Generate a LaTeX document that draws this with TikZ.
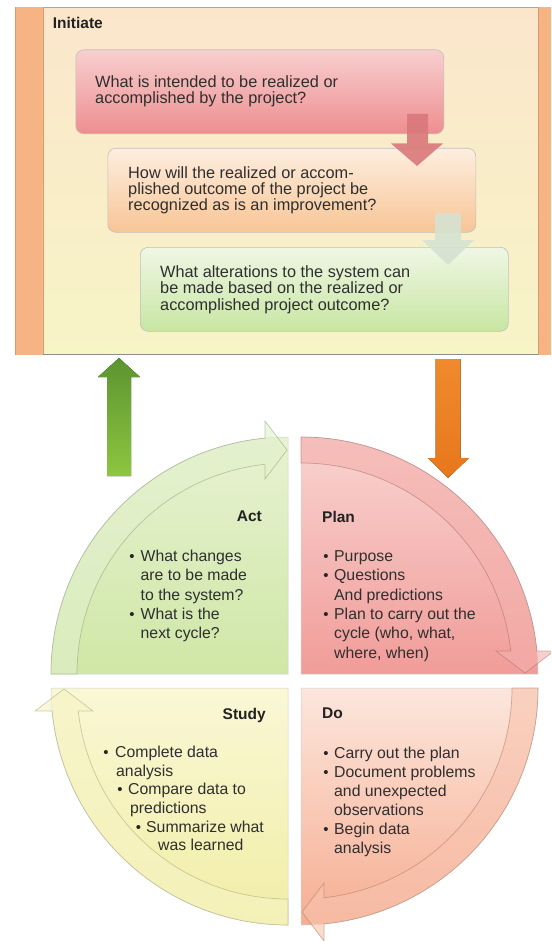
\documentclass[tikz,border=0pt]{standalone}
\usepackage{fontspec}
\setmainfont{Liberation Sans}
\usetikzlibrary{shadings}
\definecolor{txtc}{HTML}{2F2F2F}
\definecolor{ttlc}{HTML}{222222}
\definecolor{orStrip}{HTML}{F6B383}
\definecolor{orLine}{HTML}{D99B6C}
\definecolor{panelTop}{HTML}{FBE6CB}
\definecolor{panelBot}{HTML}{F7F4C6}
\definecolor{boxaTop}{HTML}{F8CFCF}
\definecolor{boxaBot}{HTML}{EE8E90}
\definecolor{boxbTop}{HTML}{FDEEDF}
\definecolor{boxbBot}{HTML}{F8C596}
\definecolor{boxcTop}{HTML}{EFF7E5}
\definecolor{boxcBot}{HTML}{C8E6A2}
\definecolor{redArr}{HTML}{D9787B}
\definecolor{greyArr}{HTML}{D5E2D1}
\definecolor{greenTop}{HTML}{5C9431}
\definecolor{greenBot}{HTML}{8DC63F}
\definecolor{orangeTop}{HTML}{F08A2D}
\definecolor{orangeBot}{HTML}{E7771C}
\definecolor{actTop}{HTML}{E7F2D2}
\definecolor{actBot}{HTML}{CFE7A6}
\definecolor{actBand}{HTML}{E2F0CC}
\definecolor{planTop}{HTML}{F8D4D1}
\definecolor{planBot}{HTML}{F19C98}
\definecolor{planBand}{HTML}{F4B0AC}
\definecolor{studyTop}{HTML}{FAF7D6}
\definecolor{studyBot}{HTML}{F1EEA6}
\definecolor{studyBand}{HTML}{F6F3C4}
\definecolor{doTop}{HTML}{FCE6DC}
\definecolor{doBot}{HTML}{F6AE92}
\definecolor{doBand}{HTML}{F8C3AE}
\tikzset{
  btxt/.style={anchor=base west, inner sep=0pt, text=txtc, font=\fontsize{16.3}{16}\selectfont},
  ctxt/.style={anchor=base west, inner sep=0pt, text=txtc, font=\fontsize{15.8}{19}\selectfont},
  ttl/.style={inner sep=0pt, text=ttlc, font=\bfseries\fontsize{15.5}{18}\selectfont},
  bul/.style={anchor=base, inner sep=0pt, text=black!85, font=\fontsize{15}{15}\selectfont},
  qbox/.style={anchor=north west, rounded corners=8pt, minimum width=368pt, minimum height=84pt, inner sep=0pt, draw=black!25, line width=0.6pt},
  bandline/.style={line width=0.7pt, draw opacity=0.55, fill opacity=0.6},
  bodyline/.style={draw=black!18, line width=0.5pt}
}
\begin{document}
\begin{tikzpicture}[x=1pt,y=-1pt]
\useasboundingbox (0,0) rectangle (551,941);
\clip (0,0) rectangle (551,941);
\fill[white] (0,0) rectangle (551,941);

% ---------- Initiate frame ----------
\fill[orStrip] (15,7) rectangle (570,355);
\draw[orLine, line width=0.6pt] (15,7) -- (15,355);
\node[anchor=north west, minimum width=495.2pt, minimum height=347pt, inner sep=0pt,
      top color=panelTop, bottom color=panelBot, draw=orLine, line width=0.8pt] (panel) at (42.5,7) {};
\draw[black!45, line width=0.8pt] (42.5,354) -- (537.7,354);
\node[ttl, anchor=base west] (initiate) at (52.7,29) {Initiate};

% boxes
\node[qbox, top color=boxaTop, bottom color=boxaBot] (qa) at (75.5,49.5) {};
\node[btxt] (qa1) at (95,87.3) {What is intended to be realized or};
\node[btxt] (qa2) at (95,103.9) {accomplished by the project?};

\node[qbox, top color=boxbTop, bottom color=boxbBot] (qb) at (107.5,148) {};
\node[btxt] (qb1) at (128,179) {How will the realized or accom-};
\node[btxt] (qb2) at (128,195) {plished outcome of the project be};
\node[btxt] (qb3) at (128,211) {recognized as is an improvement?};

% red arrow box1 -> box2
\fill[redArr, fill opacity=0.9] (407,114) -- (428,114) -- (428,143.5) -- (443,143.5) -- (417,166) -- (391,143.5) -- (407,143.5) -- cycle;

\node[qbox, top color=boxcTop, bottom color=boxcBot] (qc) at (140,247) {};
\node[btxt] (qc1) at (160,277) {What alterations to the system can};
\node[btxt] (qc2) at (160,293.5) {be made based on the realized or};
\node[btxt] (qc3) at (160,310) {accomplished project outcome?};

% grey-green arrow box2 -> box3
\fill[greyArr, fill opacity=0.9] (435,213) -- (461,213) -- (461,240) -- (474,240) -- (448,265) -- (422,240) -- (435,240) -- cycle;

% ---------- big arrows ----------
\fill[top color=greenTop, bottom color=greenBot] (107,476) -- (131,476) -- (131,377) -- (140,377) -- (119,358) -- (98,377) -- (107,377) -- cycle;
\fill[top color=orangeTop, bottom color=orangeBot] (435.7,359) -- (460.7,359) -- (460.7,458) -- (469,458) -- (448,478) -- (428,458) -- (435.7,458) -- cycle;

% ---------- cycle bodies ----------
\path[bodyline, top color=actTop, bottom color=actBot] (288,674) -- ++(-237pt,0pt) arc[start angle=180, end angle=90, radius=237pt] -- cycle;
\path[bodyline, top color=planTop, bottom color=planBot] (301,674) -- ++(0pt,237pt) arc[start angle=90, end angle=0, radius=237pt] -- cycle;
\path[bodyline, top color=doTop, bottom color=doBot] (301,688) -- ++(237pt,0pt) arc[start angle=0, end angle=-90, radius=237pt] -- cycle;
\path[bodyline, top color=studyTop, bottom color=studyBot] (288,688) -- ++(0pt,-237pt) arc[start angle=270, end angle=180, radius=237pt] -- cycle;

% ---------- cycle bands (curved arrows) ----------
\begin{scope}[shift={(288,674)}]
\path[bandline, fill=actBand, draw=actBot!70!black] (180:237pt) arc[start angle=180, end angle=95.57, radius=237pt] -- (-23pt,253pt) -- (-1pt,224pt) -- (-23pt,195pt) -- (96.26:211pt) arc[start angle=96.26, end angle=180, radius=211pt] -- cycle;
\end{scope}
\begin{scope}[shift={(301,674)}, rotate=-90]
\path[bandline, fill=planBand, draw=planBot!70!black] (180:237pt) arc[start angle=180, end angle=95.57, radius=237pt] -- (-23pt,253pt) -- (-1pt,224pt) -- (-23pt,195pt) -- (96.26:211pt) arc[start angle=96.26, end angle=180, radius=211pt] -- cycle;
\end{scope}
\begin{scope}[shift={(301,688)}, rotate=180]
\path[bandline, fill=doBand, draw=doBot!70!black] (180:237pt) arc[start angle=180, end angle=95.57, radius=237pt] -- (-23pt,253pt) -- (-1pt,224pt) -- (-23pt,195pt) -- (96.26:211pt) arc[start angle=96.26, end angle=180, radius=211pt] -- cycle;
\end{scope}
\begin{scope}[shift={(288,688)}, rotate=90]
\path[bandline, fill=studyBand, draw=studyBot!70!black] (180:237pt) arc[start angle=180, end angle=95.57, radius=237pt] -- (-23pt,253pt) -- (-1pt,224pt) -- (-23pt,195pt) -- (96.26:211pt) arc[start angle=96.26, end angle=180, radius=211pt] -- cycle;
\end{scope}

% ---------- Act ----------
\node[ttl, anchor=base east] (act) at (262,521.5) {Act};
\node[bul] (actb1) at (132,561.5) {•};
\node[ctxt] (act1) at (140.5,561.5) {What changes};
\node[ctxt] (act2) at (140.5,580.8) {are to be made};
\node[ctxt] (act3) at (140.5,600.1) {to the system?};
\node[bul] (actb2) at (132,619.4) {•};
\node[ctxt] (act4) at (140.5,619.4) {What is the};
\node[ctxt] (act5) at (140.5,638.7) {next cycle?};

% ---------- Plan ----------
\node[ttl, anchor=base west] (plan) at (322,522) {Plan};
\node[bul] (planb1) at (326,561.5) {•};
\node[ctxt] (plan1) at (334,561.5) {Purpose};
\node[bul] (planb2) at (326,580.8) {•};
\node[ctxt] (plan2) at (334,580.8) {Questions};
\node[ctxt] (plan3) at (334,600.1) {And predictions};
\node[bul] (planb3) at (326,619.4) {•};
\node[ctxt] (plan4) at (334,619.4) {Plan to carry out the};
\node[ctxt] (plan5) at (334,638.7) {cycle (who, what,};
\node[ctxt] (plan6) at (334,658) {where, when)};

% ---------- Study ----------
\node[ttl, anchor=base east] (study) at (266,719.5) {Study};
\node[bul] (stb1) at (106,757.3) {•};
\node[ctxt] (st1) at (115,757.3) {Complete data};
\node[ctxt] (st2) at (116,776) {analysis};
\node[bul] (stb2) at (120,794.7) {•};
\node[ctxt] (st3) at (128,794.7) {Compare data to};
\node[ctxt] (st4) at (130,813.4) {predictions};
\node[bul] (stb3) at (138.5,832.1) {•};
\node[ctxt] (st5) at (146,832.1) {Summarize what};
\node[ctxt] (st6) at (158,850.8) {was learned};

% ---------- Do ----------
\node[ttl, anchor=base west] (do) at (322,718.5) {Do};
\node[bul] (dob1) at (326,758.3) {•};
\node[ctxt] (do1) at (334,758.3) {Carry out the plan};
\node[bul] (dob2) at (326,777.4) {•};
\node[ctxt] (do2) at (334,777.4) {Document problems};
\node[ctxt] (do3) at (334,796.5) {and unexpected};
\node[ctxt] (do4) at (334,815.6) {observations};
\node[bul] (dob3) at (326,834.7) {•};
\node[ctxt] (do5) at (334,834.7) {Begin data};
\node[ctxt] (do6) at (334,853.8) {analysis};
\end{tikzpicture}
\end{document}
